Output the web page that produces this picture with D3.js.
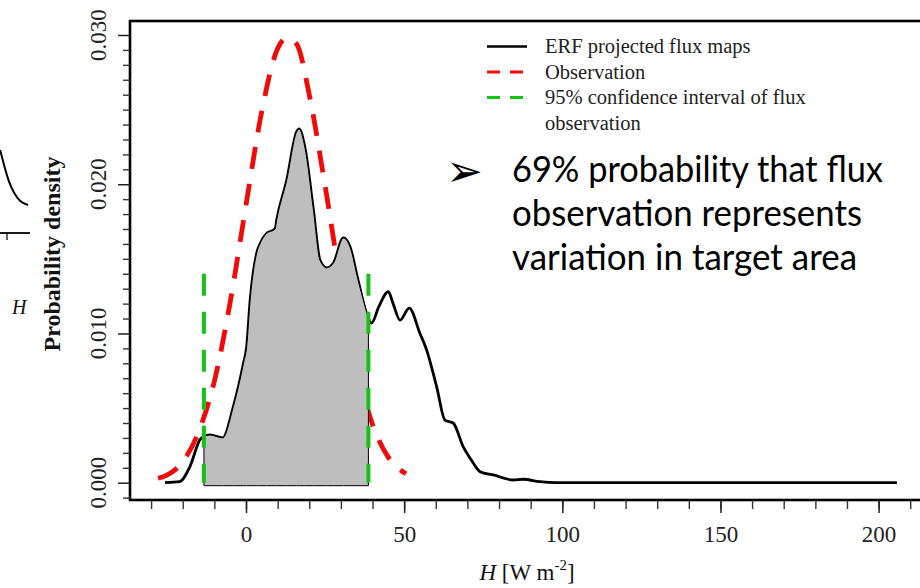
<!DOCTYPE html>
<html>
<head>
<meta charset="utf-8">
<script src="https://cdn.jsdelivr.net/npm/d3@7"></script>
<style>
  body { margin: 0; background: #fff; }
  svg { display: block; }
</style>
</head>
<body>
<svg width="920" height="588"></svg>
<script>
// ERF projected flux maps (solid black density)
const erfH = [-25.6, -21, -17.7, -14.5, -13.3, -11.4, -7.4, -4.0, -0.8, 0.2, 1.3, 3.4, 4.4, 6.5, 9.2, 9.7,
    12.9, 16.0, 16.8, 18.6, 21.3, 23.4, 25.5, 27.6, 30.8, 32.9, 35.4, 38.7, 39.7, 42.0, 45.0, 46.5,
    48.7, 51.6, 55.0, 57.1, 60.3, 62.9, 65.5, 68.7, 71.3, 74.0, 78.2, 84.5, 87.6, 92.9, 98.2, 120, 150, 180, 205.8];
const erfD = [0, 0.00007, 0.0011, 0.0029, 0.0031, 0.0032, 0.0030, 0.0051, 0.0080, 0.0091, 0.0122, 0.0154, 0.0160, 0.0167, 0.0170, 0.0176,
    0.0203, 0.0235, 0.0237, 0.0225, 0.0183, 0.0149, 0.0144, 0.0147, 0.0164, 0.0158, 0.0136, 0.0110, 0.0107, 0.0118, 0.0128, 0.0120,
    0.0109, 0.0117, 0.0100, 0.0089, 0.0064, 0.0042, 0.0040, 0.0024, 0.0015, 0.00074, 0.00052, 0.00018, 0.00023, 0.00007, 0.00001, 0, 0, 0, 0];

// observation density (red dashed)
const obsH = [-27.8, -25, -20, -15, -10, -5, 0, 5, 10, 13, 16, 20, 25, 30, 35, 40, 45, 50.6];
const obsD = [0.0003, 0.0005, 0.0014, 0.0034, 0.0068, 0.0121, 0.0186, 0.0249, 0.0291, 0.0298, 0.0294, 0.0260, 0.0199, 0.0133, 0.0078, 0.0039, 0.0017, 0.0006];

// 95% confidence interval of the flux observation
const ciBounds = [-13.3, 38.7];
const ciHeight = [0, 0.014];

// ticks
const xMajor = [0, 50, 100, 150, 200];
const xMinor = [-30, -20, -10, 0, 10, 20, 30, 40, 50, 60, 70, 80, 90, 100, 110, 120, 130, 140, 150, 160, 170, 180, 190, 200, 210];
const yMajor = [0, 0.01, 0.02, 0.03];
const yMinor = [-0.001, 0.001, 0.002, 0.003, 0.004, 0.005, 0.006, 0.007, 0.008, 0.009, 0.011, 0.012, 0.013, 0.014, 0.015,
    0.016, 0.017, 0.018, 0.019, 0.021, 0.022, 0.023, 0.024, 0.025, 0.026, 0.027, 0.028, 0.029];

const legendLabels = ["ERF projected flux maps", "Observation", "95% confidence interval of flux", "observation"];
const noteLines = ["69% probability that flux", "observation represents", "variation in target area"];

// bit of the neighbouring panel that is cut off on the left
const sideX = [-0.23, -0.1, 0.07, 0.23, 0.43, 0.7];
const sideY = [0.83, 0.68, 0.5, 0.4, 0.31, 0.28];

const svg = d3.select("svg");
const serif = "'Liberation Serif', 'Times New Roman', serif";

const x = d3.scaleLinear().domain([0, 200]).range([246, 878.6]);
const y = d3.scaleLinear().domain([0, 0.03]).range([482.7, 35]);

const erf = erfH.map((h, i) => [h, erfD[i]]);
const obs = obsH.map((h, i) => [h, obsD[i]]);

const line = d3.line()
    .x(d => x(d[0]))
    .y(d => y(d[1]))
    .curve(d3.curveMonotoneX);

// frame
svg.append("rect")
    .attr("x", 130).attr("y", 21)
    .attr("width", 820).attr("height", 479)
    .attr("fill", "none")
    .attr("stroke", "#000")
    .attr("stroke-width", 2.6);

// x axis
const gxMinor = svg.append("g")
    .attr("transform", "translate(0,500)")
    .call(d3.axisBottom(x).tickValues(xMinor).tickSize(9).tickFormat(""));
gxMinor.select(".domain").remove();
gxMinor.selectAll("line").attr("stroke", "#333").attr("stroke-width", 1.4);

const gx = svg.append("g")
    .attr("transform", "translate(0,500)")
    .call(d3.axisBottom(x).tickValues(xMajor).tickSize(13).tickPadding(13).tickFormat(d3.format("d")));
gx.select(".domain").remove();
gx.selectAll("line").attr("stroke", "#222").attr("stroke-width", 1.5);
gx.selectAll("text")
    .attr("font-family", serif)
    .attr("font-size", 23)
    .attr("fill", "#222");

// y axis
const gyMinor = svg.append("g")
    .attr("transform", "translate(130,0)")
    .call(d3.axisLeft(y).tickValues(yMinor).tickSize(7).tickFormat(""));
gyMinor.select(".domain").remove();
gyMinor.selectAll("line").attr("stroke", "#333").attr("stroke-width", 1.4);

const gy = svg.append("g")
    .attr("transform", "translate(130,0)")
    .call(d3.axisLeft(y).tickValues(yMajor).tickSize(12).tickFormat(""));
gy.select(".domain").remove();
gy.selectAll("line").attr("stroke", "#222").attr("stroke-width", 1.5);

svg.append("g").selectAll("text")
    .data(yMajor)
    .join("text")
    .attr("transform", d => `translate(106,${y(d)}) rotate(-90)`)
    .attr("text-anchor", "middle")
    .attr("font-family", serif)
    .attr("font-size", 23)
    .attr("fill", "#222")
    .text(d3.format(".3f"));

// axis titles
svg.append("text")
    .attr("transform", "translate(60,254) rotate(-90)")
    .attr("text-anchor", "middle")
    .attr("font-family", serif)
    .attr("font-weight", "bold")
    .attr("font-size", 24)
    .attr("fill", "#111")
    .text("Probability density");

const xt = svg.append("text")
    .attr("x", 527).attr("y", 580)
    .attr("text-anchor", "middle")
    .attr("font-family", serif)
    .attr("font-size", 23)
    .attr("fill", "#111");
xt.append("tspan").attr("font-style", "italic").text("H");
xt.append("tspan").text(" [W m");
xt.append("tspan").attr("font-size", 15).attr("dy", -10).text("-2");
xt.append("tspan").attr("dy", 10).text("]");

// curves
svg.append("path")
    .datum(erf)
    .attr("d", line)
    .attr("fill", "none")
    .attr("stroke", "#000")
    .attr("stroke-width", 2.8);

svg.append("path")
    .datum(obs)
    .attr("d", line)
    .attr("fill", "none")
    .attr("stroke", "#f00a0a")
    .attr("stroke-width", 4.8)
    .attr("stroke-dasharray", "22,15");

// shaded part of the ERF density inside the confidence interval
const area = d3.area()
    .x(d => x(d[0]))
    .y0(y(-0.0002))
    .y1(d => y(d[1]))
    .curve(d3.curveMonotoneX);

svg.append("path")
    .datum(erf.filter(d => d[0] >= ciBounds[0] && d[0] <= ciBounds[1]))
    .attr("d", area)
    .attr("fill", "#bebebe")
    .attr("stroke", "#000")
    .attr("stroke-width", 1);

svg.append("g").selectAll("line")
    .data(ciBounds)
    .join("line")
    .attr("x1", d => x(d)).attr("x2", d => x(d))
    .attr("y1", y(ciHeight[1])).attr("y2", y(ciHeight[0]))
    .attr("stroke", "#14c214")
    .attr("stroke-width", 4)
    .attr("stroke-dasharray", "22,16");

// legend
const legendStyles = [
    { color: "#000", dash: null, width: 2.6 },
    { color: "#f00a0a", dash: "13,10", width: 3 },
    { color: "#14c214", dash: "13,10", width: 3 }
];
const lg = svg.append("g");
lg.selectAll("line")
    .data(legendStyles)
    .join("line")
    .attr("x1", 487).attr("x2", 527)
    .attr("y1", (d, i) => 46.5 + i * 25.5)
    .attr("y2", (d, i) => 46.5 + i * 25.5)
    .attr("stroke", d => d.color)
    .attr("stroke-width", d => d.width)
    .attr("stroke-dasharray", d => d.dash);
lg.selectAll("text")
    .data(legendLabels)
    .join("text")
    .attr("x", 545)
    .attr("y", (d, i) => 53 + i * 25.5)
    .attr("font-family", serif)
    .attr("font-size", 20.5)
    .attr("fill", "#222")
    .text(d => d);

// annotation
svg.append("text")
    .attr("x", 446).attr("y", 186)
    .attr("font-family", "'DejaVu Sans', sans-serif")
    .attr("font-size", 44)
    .attr("fill", "#000")
    .text("\u27A2");

const noteWidths = [371, 350, 345];
svg.append("g").selectAll("text")
    .data(noteLines)
    .join("text")
    .attr("x", 512)
    .attr("y", (d, i) => 182 + i * 44)
    .attr("font-family", "Lato, 'Open Sans', sans-serif")
    .attr("font-size", 36)
    .attr("fill", "#000")
    .attr("textLength", (d, i) => noteWidths[i])
    .attr("lengthAdjust", "spacingAndGlyphs")
    .text(d => d);

// neighbouring panel fragment
const sx = d3.scaleLinear().domain([0, 1]).range([7, 37]);
const sy = d3.scaleLinear().domain([0, 1]).range([233, 133]);
svg.append("path")
    .datum(sideX.map((v, i) => [v, sideY[i]]))
    .attr("d", d3.line().x(d => sx(d[0])).y(d => sy(d[1])).curve(d3.curveBasis))
    .attr("fill", "none")
    .attr("stroke", "#000")
    .attr("stroke-width", 2);
svg.append("line")
    .attr("x1", 0).attr("x2", 30).attr("y1", sy(0)).attr("y2", sy(0))
    .attr("stroke", "#000").attr("stroke-width", 1.8);
svg.append("line")
    .attr("x1", sx(0)).attr("x2", sx(0)).attr("y1", sy(0)).attr("y2", sy(0) + 7)
    .attr("stroke", "#000").attr("stroke-width", 1.2);
svg.append("text")
    .attr("x", 12).attr("y", 314)
    .attr("font-family", serif)
    .attr("font-style", "italic")
    .attr("font-size", 20)
    .attr("fill", "#111")
    .text("H");
</script>
</body>
</html>
